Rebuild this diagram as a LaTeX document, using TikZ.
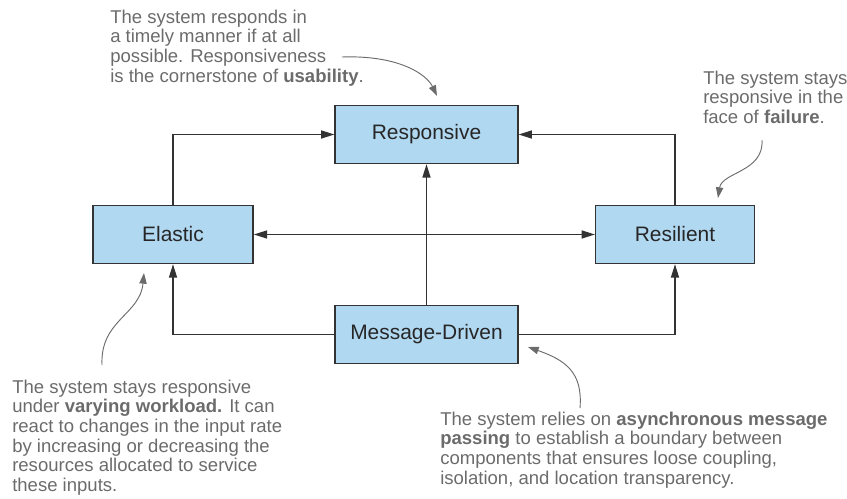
\documentclass[tikz,border=0pt]{standalone}
\usepackage{fontspec}
\setmainfont{Liberation Sans}
\usetikzlibrary{arrows.meta}

\definecolor{boxblue}{HTML}{B1D8F1}
\definecolor{linegray}{HTML}{333333}
\definecolor{notegray}{HTML}{6B6B6B}

\begin{document}
\begin{tikzpicture}[x=0.75pt, y=-0.75pt,
    trait/.style={draw=linegray, line width=1.1pt, fill=boxblue, minimum height=43.5pt,
        text=black!85, font=\fontsize{15.7}{18}\selectfont},
    link/.style={draw=linegray, line width=1.1pt, -{Triangle[length=10pt,width=6pt]}},
    note/.style={align=left, inner sep=0pt, anchor=north west, text=notegray,
        font=\fontsize{13.9}{14.7}\selectfont},
    hint/.style={draw=notegray, line width=0.7pt, -{Triangle[length=8pt,width=5.5pt]}}]
    \useasboundingbox (0,0) rectangle (847,499);
    \node[trait, minimum width=137pt] (resp) at (426.5,134.5) {Responsive};
    \node[trait, minimum width=120pt] (elas) at (173,234.5) {Elastic};
    \node[trait, minimum width=119pt] (resi) at (675,234.5) {Resilient};
    \node[trait, minimum width=137pt] (msg) at (426.5,334.5) {Message-Driven};
    \draw[link] (elas.north) |- (resp.west);
    \draw[link] (resi.north) |- (resp.east);
    \draw[link] (msg.north) -- (resp.south);
    \draw[link, {Triangle[length=10pt,width=6pt]}-{Triangle[length=10pt,width=6pt]}] (elas.east) -- (resi.west);
    \draw[link] (msg.west) -| (elas.south);
    \draw[link] (msg.east) -| (resi.south);
    \node[note] (respnote) at (110,9.7) {The system responds in\\a timely manner if at all\\possible. Responsiveness\\is the cornerstone of \textbf{usability}.};
    \node[note] (resinote) at (703,70.7) {The system stays\\responsive in the\\face of \textbf{failure}.};
    \node[note] (elasnote) at (12,379.7) {The system stays responsive\\under \textbf{varying workload.} It can\\react to changes in the input rate\\by increasing or decreasing the\\resources allocated to service\\these inputs.};
    \node[note] (msgnote) at (440,411.7) {The system relies on \textbf{asynchronous message}\\\textbf{passing} to establish a boundary between\\components that ensures loose coupling,\\isolation, and location transparency.};
    \coordinate (resptail) at (342,57);
    \coordinate (resptip) at (437,96);
    \coordinate (resitail) at (762,140);
    \coordinate (resitip) at (718,198);
    \coordinate (elastail) at (102,365);
    \coordinate (elastip) at (144,273);
    \coordinate (msgtail) at (580,408);
    \coordinate (msgtip) at (528,347);
    \draw[hint] (resptail) .. controls (400,55) and (427,75) .. (resptip);
    \draw[hint] (resitail) .. controls (764,172) and (722,172) .. (resitip);
    \draw[hint] (elastail) .. controls (100,320) and (140,315) .. (elastip);
    \draw[hint] (msgtail) .. controls (583,372) and (565,360) .. (msgtip);
\end{tikzpicture}
\end{document}
